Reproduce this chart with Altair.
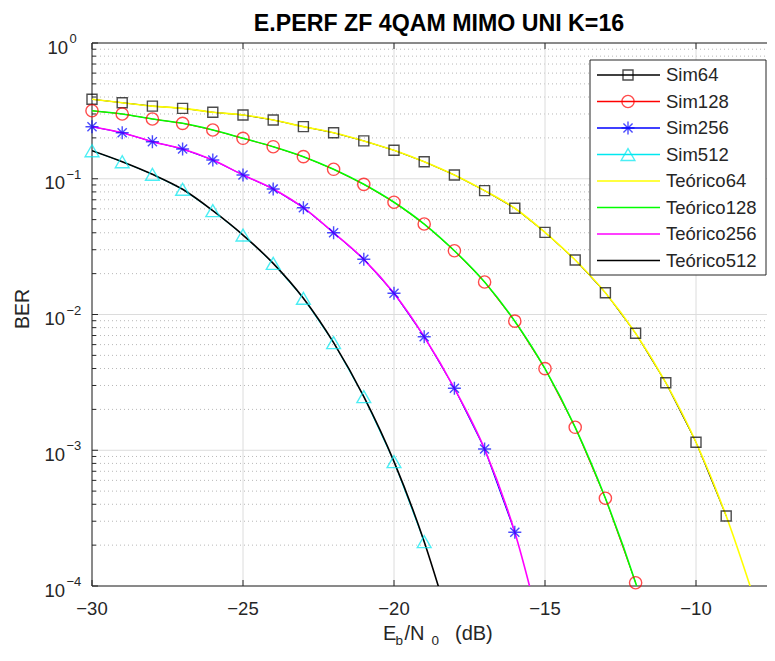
import altair as alt
import pandas as pd

FONT = "Liberation Sans"
TXT = "#262626"

# ---------------- data ----------------
title_text = "E.PERF ZF 4QAM MIMO UNI K=16"

x_sim64 = list(range(-30, -8))
ber_sim64 = [0.385, 0.363, 0.343, 0.330, 0.309, 0.295, 0.271, 0.242, 0.218, 0.190, 0.162,
             0.1335, 0.1066, 0.0817, 0.0606, 0.0403, 0.0252, 0.01447, 0.00727, 0.003145,
             0.001145, 0.000328]
x_sim128 = list(range(-30, -11))
ber_sim128 = [0.317, 0.300, 0.2755, 0.256, 0.2286, 0.1986, 0.1722, 0.1454, 0.1174, 0.0910,
              0.0671, 0.0464, 0.0295, 0.01736, 0.00893, 0.00399, 0.001476, 0.000443, 0.0001057]
x_sim256 = list(range(-30, -15))
ber_sim256 = [0.2417, 0.2184, 0.1875, 0.1656, 0.1374, 0.1066, 0.0841, 0.0612, 0.0400, 0.0255,
              0.01433, 0.00686, 0.00286, 0.001021, 0.000249]
x_sim512 = list(range(-30, -18))
ber_sim512 = [0.1609, 0.1335, 0.1078, 0.0836, 0.0582, 0.0385, 0.0238, 0.01316, 0.0062,
              0.00248, 0.000824, 0.000212]

x_teo64 = list(range(-30, -7))
ber_teo64 = [0.385, 0.363, 0.343, 0.330, 0.309, 0.295, 0.271, 0.242, 0.218, 0.190, 0.162,
             0.1335, 0.1066, 0.0817, 0.0606, 0.0403, 0.0252, 0.01447, 0.00727, 0.003145,
             0.001145, 0.000328, 0.000072]
x_teo128 = list(range(-30, -10))
ber_teo128 = [0.317, 0.300, 0.2755, 0.256, 0.2286, 0.1986, 0.1722, 0.1454, 0.1174, 0.0910,
              0.0671, 0.0464, 0.0295, 0.01736, 0.00893, 0.00399, 0.001476, 0.000443, 0.0001057,
              0.000019]
x_teo256 = list(range(-30, -14))
ber_teo256 = [0.2417, 0.2184, 0.1875, 0.1656, 0.1374, 0.1066, 0.0841, 0.0612, 0.0400, 0.0255,
              0.01433, 0.00686, 0.00286, 0.001021, 0.000249, 0.000035]
x_teo512 = list(range(-30, -17))
ber_teo512 = [0.1609, 0.1335, 0.1078, 0.0836, 0.0582, 0.0385, 0.0238, 0.01316, 0.0062,
              0.00248, 0.000824, 0.000212, 0.000040]

sim_names = ["Sim64", "Sim128", "Sim256", "Sim512"]
sim_colors = ["#000000", "#FF0000", "#0000FF", "#00E8F0"]
teo_names = ["Teórico64", "Teórico128", "Teórico256", "Teórico512"]
teo_colors = ["#FFFF00", "#00FF00", "#FF00FF", "#000000"]

x_ticks = [-30, -25, -20, -15, -10]
x_tick_labels = ["−30", "−25", "−20", "−15", "−10"]
y_decades = [1e-4, 1e-3, 1e-2, 1e-1, 1.0]
y_exponents = ["−4", "−3", "−2", "−1", "0"]
y_minor = [m * 10.0 ** e for e in (-4, -3, -2, -1) for m in range(2, 10)]

# marker styles
ASTERISK = "M0,-1L0,1M-1,0L1,0M-0.7,-0.7L0.7,0.7M-0.7,0.7L0.7,-0.7"
sim_shapes = ["square", "circle", ASTERISK, "triangle-up"]
sim_sizes = [100, 150, 170, 190]

# ---------------- layout ----------------
W, H = 675, 543
XMIN = -30
XMAX = -30 + W / 30.2

xscale = alt.Scale(domain=[XMIN, XMAX], nice=False, zero=False)
yscale = alt.Scale(type="log", domain=[1e-4, 1.0], nice=False)

# ---------------- tables ----------------
sim_rows = []
for name, col, shp, sz, xs, ys in zip(sim_names, sim_colors, sim_shapes, sim_sizes,
                                      [x_sim64, x_sim128, x_sim256, x_sim512],
                                      [ber_sim64, ber_sim128, ber_sim256, ber_sim512]):
    for xv, yv in zip(xs, ys):
        sim_rows.append({"series": name, "color": col, "shape": shp, "size": sz, "x": xv, "ber": yv})
sim_df = pd.DataFrame(sim_rows)

teo_rows = []
for name, col, xs, ys in zip(teo_names, teo_colors,
                             [x_teo64, x_teo128, x_teo256, x_teo512],
                             [ber_teo64, ber_teo128, ber_teo256, ber_teo512]):
    for xv, yv in zip(xs, ys):
        teo_rows.append({"series": name, "color": col, "x": xv, "ber": yv})
teo_df = pd.DataFrame(teo_rows)

xt_df = pd.DataFrame({"x": x_ticks, "lab": x_tick_labels})
dec_df = pd.DataFrame({"v": y_decades, "e": y_exponents})
minor_df = pd.DataFrame({"v": y_minor})

leg_df = pd.DataFrame({
    "label": sim_names + teo_names,
    "color": sim_colors + teo_colors,
    "shape": sim_shapes + [""] * 4,
    "size": sim_sizes + [0] * 4,
    "idx": list(range(8)),
})

GRID = "#dcdcdc"
X = lambda f="x:Q": alt.X(f, scale=xscale, axis=None)
Y = lambda f: alt.Y(f, scale=yscale, axis=None)

# ---------------- layers ----------------
one = pd.DataFrame({"k": [0]})

minor_grid = alt.Chart(minor_df).mark_rule(color="#b8b8b8", strokeWidth=1, strokeDash=[1, 3]).encode(
    x=alt.value(0), x2=alt.value(W), y=Y("v:Q"))
major_hgrid = alt.Chart(dec_df).mark_rule(color=GRID, strokeWidth=1).encode(
    x=alt.value(0), x2=alt.value(W), y=Y("v:Q"))
major_vgrid = alt.Chart(xt_df).mark_rule(color=GRID, strokeWidth=1).encode(
    x=X(), y=alt.value(0), y2=alt.value(H))

border_top = alt.Chart(one).mark_rule(color=TXT, strokeWidth=1).encode(
    x=alt.value(0), x2=alt.value(W), y=alt.value(0))
border_bottom = alt.Chart(one).mark_rule(color=TXT, strokeWidth=1).encode(
    x=alt.value(0), x2=alt.value(W), y=alt.value(H))
border_left = alt.Chart(one).mark_rule(color=TXT, strokeWidth=1).encode(
    x=alt.value(0), y=alt.value(0), y2=alt.value(H))

xt_bottom = alt.Chart(xt_df).mark_rule(color=TXT, strokeWidth=1).encode(
    x=X(), y=alt.value(H), y2=alt.value(H - 6))
xt_top = alt.Chart(xt_df).mark_rule(color=TXT, strokeWidth=1).encode(
    x=X(), y=alt.value(0), y2=alt.value(6))
yt_major = alt.Chart(dec_df).mark_rule(color=TXT, strokeWidth=1).encode(
    y=Y("v:Q"), x=alt.value(0), x2=alt.value(6))
yt_minor = alt.Chart(minor_df).mark_rule(color=TXT, strokeWidth=1).encode(
    y=Y("v:Q"), x=alt.value(0), x2=alt.value(4))

x_labels = alt.Chart(xt_df).mark_text(align="center", baseline="alphabetic", font=FONT,
                                      fontSize=18.5, color=TXT).encode(
    x=X(), y=alt.value(H + 29), text="lab:N")

sim_lines = alt.Chart(sim_df).mark_line(strokeWidth=1, clip=True).encode(
    x=X(), y=Y("ber:Q"),
    color=alt.Color("color:N", scale=None),
    detail="series:N", order="x:Q")

teo_lines = alt.Chart(teo_df).mark_line(strokeWidth=1.6, clip=True, interpolate="monotone").encode(
    x=X(), y=Y("ber:Q"),
    color=alt.Color("color:N", scale=None),
    detail="series:N", order="x:Q")

sim_points = alt.Chart(sim_df).mark_point(filled=False, strokeWidth=1.4).encode(
    x=X(), y=Y("ber:Q"),
    color=alt.Color("color:N", scale=None),
    shape=alt.Shape("shape:N", scale=None),
    size=alt.Size("size:Q", scale=None))

# y tick labels  10^k  (two groups: exponent "0" and negative exponents)
def ylabels(cond, ten_x, exp_x):
    base = alt.Chart(dec_df).transform_filter(cond)
    ten = base.mark_text(align="right", baseline="middle", dy=4.5, font=FONT, fontSize=18.5,
                         color=TXT, text="10").encode(x=alt.value(ten_x), y=Y("v:Q"))
    ex = base.mark_text(align="left", baseline="middle", dy=-4, font=FONT, fontSize=13,
                        color=TXT).encode(x=alt.value(exp_x), y=Y("v:Q"), text="e:N")
    return [ten, ex]

ylab_layers = ylabels("datum.e == '0'", -24, -22.5) + ylabels("datum.e != '0'", -27, -25.5)

def txt(s, x, y, size, **kw):
    return alt.Chart(one).mark_text(text=s, font=FONT, fontSize=size, color=kw.pop("color", TXT), **kw).encode(
        x=alt.value(x), y=alt.value(y))

title_layer = txt(title_text, 347, -12, 23.2, color="#000000", fontWeight="bold", align="center",
                  baseline="alphabetic")
ylabel = txt("BER", -69, 266, 19.5, angle=270, align="center", baseline="middle")
xl_E = txt("E", 291, 597, 20, align="left", baseline="alphabetic")
xl_b = txt("b", 303.5, 602, 13.5, align="left", baseline="alphabetic")
xl_N = txt("/N", 312.5, 597, 20, align="left", baseline="alphabetic")
xl_0 = txt("0", 339.5, 602, 13.5, align="left", baseline="alphabetic")
xl_dB = txt("(dB)", 363, 597, 20, align="left", baseline="alphabetic")

# legend
LX0, LX1, LY0, LY1 = 498, 674, 17, 232
leg_box = alt.Chart(one).mark_rect(fill="white", stroke=TXT, strokeWidth=1).encode(
    x=alt.value(LX0), x2=alt.value(LX1), y=alt.value(LY0), y2=alt.value(LY1))
leg_base = alt.Chart(leg_df).transform_calculate(ly="32 + 26.5 * datum.idx")
leg_lines = leg_base.mark_rule(strokeWidth=1.4).encode(
    x=alt.value(505), x2=alt.value(568),
    y=alt.Y("ly:Q", scale=None, axis=None),
    color=alt.Color("color:N", scale=None))
leg_marks = leg_base.transform_filter("datum.shape != ''").mark_point(filled=False, strokeWidth=1.4).encode(
    x=alt.value(536),
    y=alt.Y("ly:Q", scale=None, axis=None),
    color=alt.Color("color:N", scale=None),
    shape=alt.Shape("shape:N", scale=None),
    size=alt.Size("size:Q", scale=None))
leg_text = leg_base.mark_text(align="left", baseline="middle", font=FONT, fontSize=18.5, color=TXT).encode(
    x=alt.value(574),
    y=alt.Y("ly:Q", scale=None, axis=None),
    text="label:N")

chart = alt.layer(
    minor_grid, major_hgrid, major_vgrid, border_top, border_bottom, border_left,
    xt_bottom, xt_top, yt_major, yt_minor, x_labels,
    sim_lines, teo_lines, sim_points,
    *ylab_layers, title_layer, ylabel, xl_E, xl_b, xl_N, xl_0, xl_dB,
    leg_box, leg_lines, leg_marks, leg_text,
).properties(
    width=W, height=H,
    padding={"left": 84, "top": 35, "right": 0, "bottom": 62},
    autosize=alt.AutoSizeParams(type="none"),
    background="white",
).configure_view(stroke=None)

chart.save("out.html", embed_options={"renderer": "svg", "actions": False})
